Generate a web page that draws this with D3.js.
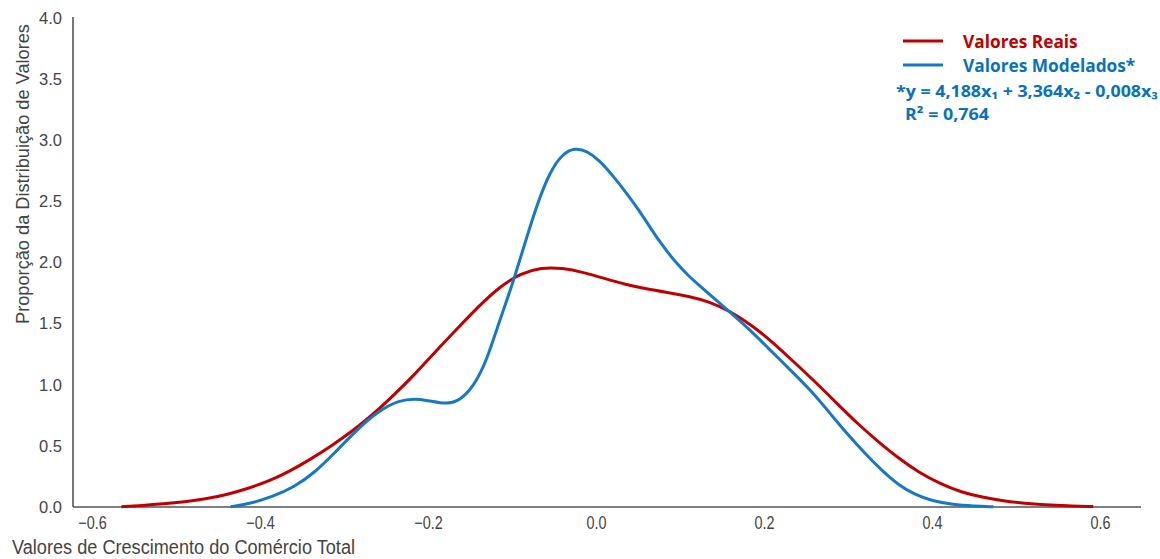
<!DOCTYPE html>
<html><head><meta charset="utf-8">
<script src="https://cdn.jsdelivr.net/npm/d3@7"></script>
<style>
html,body{margin:0;padding:0;background:#fff;}
svg{display:block;}
</style>
</head><body>
<svg id="c" width="1160" height="559"></svg>
<script>
const xTicks = [-0.6, -0.4, -0.2, 0.0, 0.2, 0.4, 0.6];
const yTicks = [0.0, 0.5, 1.0, 1.5, 2.0, 2.5, 3.0, 3.5, 4.0];

const realX = [-0.565, -0.54, -0.515, -0.49, -0.465, -0.44, -0.415, -0.39, -0.365, -0.34, -0.315, -0.29, -0.265, -0.24, -0.215, -0.19, -0.165, -0.14, -0.115, -0.09, -0.065, -0.04, -0.015, 0.01, 0.035, 0.06, 0.085, 0.11, 0.135, 0.16, 0.185, 0.21, 0.235, 0.26, 0.285, 0.31, 0.335, 0.36, 0.385, 0.41, 0.435, 0.46, 0.485, 0.51, 0.535, 0.56, 0.592];
const realY = [0.003, 0.012, 0.025, 0.042, 0.065, 0.10, 0.15, 0.21, 0.29, 0.39, 0.50, 0.62, 0.76, 0.92, 1.09, 1.28, 1.46, 1.64, 1.80, 1.91, 1.96, 1.955, 1.92, 1.87, 1.82, 1.785, 1.755, 1.725, 1.68, 1.60, 1.49, 1.35, 1.19, 1.03, 0.86, 0.69, 0.54, 0.40, 0.28, 0.19, 0.12, 0.08, 0.05, 0.03, 0.018, 0.01, 0.004];

const modelX = [-0.435, -0.41, -0.385, -0.36, -0.335, -0.31, -0.285, -0.26, -0.235, -0.21, -0.185, -0.165, -0.145, -0.13, -0.115, -0.1, -0.085, -0.07, -0.055, -0.04, -0.025, -0.01, 0.005, 0.02, 0.035, 0.05, 0.065, 0.08, 0.095, 0.11, 0.125, 0.14, 0.155, 0.18, 0.205, 0.23, 0.255, 0.28, 0.3, 0.32, 0.34, 0.36, 0.38, 0.4, 0.425, 0.45, 0.473];
const modelY = [0.002, 0.03, 0.085, 0.16, 0.28, 0.45, 0.63, 0.78, 0.875, 0.89, 0.845, 0.85, 0.99, 1.20, 1.52, 1.81, 2.15, 2.48, 2.74, 2.89, 2.94, 2.91, 2.83, 2.71, 2.58, 2.44, 2.28, 2.13, 2.00, 1.89, 1.80, 1.71, 1.62, 1.47, 1.30, 1.13, 0.96, 0.755, 0.59, 0.44, 0.30, 0.18, 0.10, 0.05, 0.02, 0.008, 0.002];

const legendLabels = ["Valores Reais", "Valores Modelados*"];
const equationText = "*y = 4,188x₁ + 3,364x₂ - 0,008x₃";
const r2Text = "R² = 0,764";
const colors = ["#C00000", "#1878C8"];
const textColors = ["#C00000", "#0A70C0"];

const svg = d3.select("#c");
const x = d3.scaleLinear().domain([-0.6, 0.6]).range([92, 1100]);
const y = d3.scaleLinear().domain([0, 4]).range([507, 18]);

const axisColor = "#555";
svg.append("line").attr("x1", 73).attr("x2", 73).attr("y1", 17).attr("y2", 507)
  .attr("stroke", axisColor).attr("stroke-width", 1.6);
svg.append("line").attr("x1", 73).attr("x2", 1141).attr("y1", 507).attr("y2", 507)
  .attr("stroke", axisColor).attr("stroke-width", 1.6);

// y ticks
const ya = svg.append("g").attr("transform", "translate(73,0)")
  .call(d3.axisLeft(y).tickValues(yTicks).tickFormat(d3.format(".1f")).tickSize(0).tickPadding(11));
ya.select(".domain").remove();
ya.selectAll("text").attr("font-family", "Liberation Sans, Arial, sans-serif").attr("font-size", 16.5).attr("fill", "#444");

// x ticks (narrow look)
const xa = svg.append("g").attr("transform", "translate(0,507)")
  .call(d3.axisBottom(x).tickValues(xTicks).tickFormat(d => d3.format(".1f")(d).replace("-", "−")).tickSize(0).tickPadding(9));
xa.select(".domain").remove();
xa.selectAll("text").attr("font-family", "Liberation Sans, Arial, sans-serif")
  .attr("font-size", 18).attr("fill", "#444")
  .each(function() {
    const w = this.getComputedTextLength();
    d3.select(this).attr("textLength", w * 0.8).attr("lengthAdjust", "spacingAndGlyphs");
  });

// axis labels
svg.append("text").attr("transform", "translate(29,174) rotate(-90)").attr("text-anchor", "middle")
  .attr("font-family", "Liberation Sans, Arial, sans-serif").attr("font-size", 18.2).attr("fill", "#444")
  .text("Proporção da Distribuição de Valores");
svg.append("text").attr("x", 12).attr("y", 554)
  .attr("font-family", "Liberation Sans, Arial, sans-serif")
  .attr("font-size", 19.5).attr("fill", "#444")
  .attr("textLength", 343).attr("lengthAdjust", "spacingAndGlyphs")
  .text("Valores de Crescimento do Comércio Total");

// curves
const line = d3.line().x(d => x(d[0])).y(d => y(d[1])).curve(d3.curveBasis);
const realData = realX.map((v, i) => [v, realY[i]]);
const modelData = modelX.map((v, i) => [v, modelY[i]]);
svg.append("path").datum(realData).attr("d", line).attr("fill", "none").attr("stroke", colors[0]).attr("stroke-width", 3);
svg.append("path").datum(modelData).attr("d", line).attr("fill", "none").attr("stroke", colors[1]).attr("stroke-width", 3);

// legend
const lf = "Open Sans, Noto Sans, sans-serif";
const baselines = [48, 72];
legendLabels.forEach((t, i) => {
  const ly = 41 + i * 24;
  svg.append("line").attr("x1", 903).attr("x2", 943).attr("y1", ly).attr("y2", ly)
    .attr("stroke", colors[i]).attr("stroke-width", 3);
  svg.append("text").attr("x", 963).attr("y", baselines[i]).attr("font-family", lf).attr("font-weight", "bold")
    .attr("font-size", 17.3).attr("fill", textColors[i]).text(t);
});
svg.append("text").attr("x", 896).attr("y", 97).attr("font-family", lf).attr("font-weight", "bold")
  .attr("font-size", 16).attr("fill", textColors[1]).attr("textLength", 262).attr("lengthAdjust", "spacingAndGlyphs")
  .text(equationText);
svg.append("text").attr("x", 905).attr("y", 120).attr("font-family", lf).attr("font-weight", "bold")
  .attr("font-size", 16.5).attr("fill", textColors[1]).attr("textLength", 84).attr("lengthAdjust", "spacingAndGlyphs")
  .text(r2Text);
</script>
</body></html>
